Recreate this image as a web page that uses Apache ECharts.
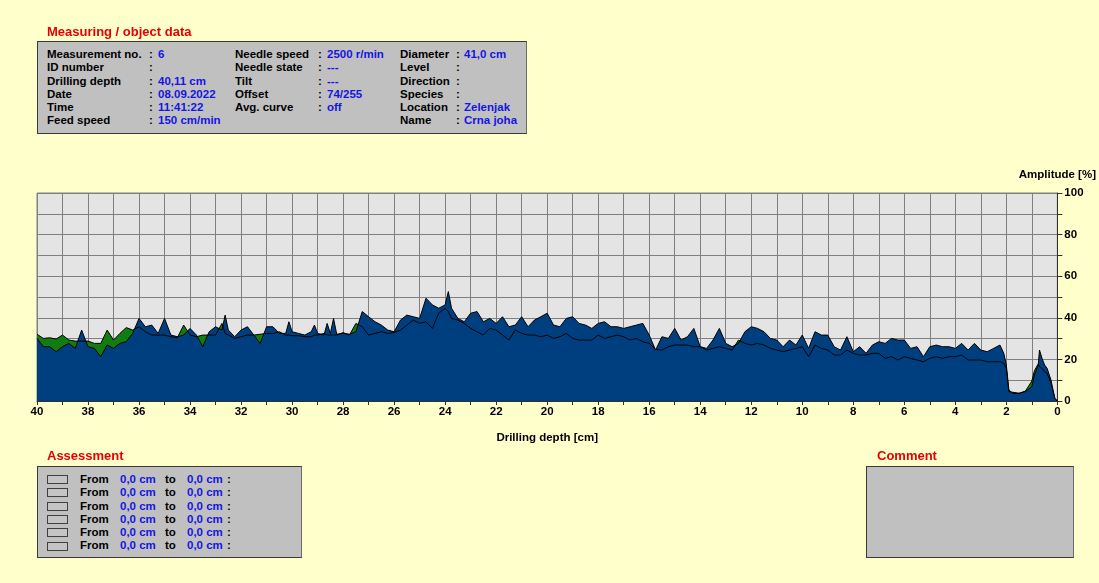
<!DOCTYPE html>
<html>
<head>
<meta charset="utf-8">
<script src="https://cdn.jsdelivr.net/npm/echarts@6/dist/echarts.min.js"></script>
<style>
  html, body { margin: 0; padding: 0; background: #ffffcc; }
  body { width: 1099px; height: 583px; position: relative; overflow: hidden;
         font-family: "Liberation Sans", Arial, sans-serif; font-weight: bold; font-size: 11.5px; }
  #chart { position: absolute; left: 0; top: 0; width: 1099px; height: 583px; }
  .title { position: absolute; color: #e60000; font-size: 13px; line-height: 16px; }
  .box { position: absolute; background: #c0c0c0; border: 1px solid #3a3a3a;
         border-right-color: #6a6a6a; box-sizing: border-box; }
  .col { position: absolute; line-height: 13.3px; white-space: pre; color: #000; }
  .val { color: #1414e6; }
  .sq { position: absolute; width: 21px; height: 9px; border: 1px solid #404040;
        box-sizing: border-box; background: #c4c4c4; }
</style>
</head>
<body>
<div id="chart"></div>

<div class="title" style="left:47px; top:24px;">Measuring / object data</div>
<div class="box" style="left:37px; top:41px; width:490px; height:93px;"></div>
<div id="info"></div>

<div class="title" style="left:47px; top:448px;">Assessment</div>
<div class="box" style="left:37px; top:466px; width:265px; height:92px;"></div>
<div id="assess"></div>

<div class="title" style="left:877px; top:448px;">Comment</div>
<div class="box" style="left:866px; top:466px; width:208px; height:92px;"></div>

<script>
// measuring / object data, three columns of label + value
const infoLabels1 = ["Measurement no.", "ID number", "Drilling depth", "Date", "Time", "Feed speed"];
const infoValues1 = ["6", "", "40,11 cm", "08.09.2022", "11:41:22", "150 cm/min"];
const infoLabels2 = ["Needle speed", "Needle state", "Tilt", "Offset", "Avg. curve", ""];
const infoValues2 = ["2500 r/min", "---", "---", "74/255", "off", ""];
const infoLabels3 = ["Diameter", "Level", "Direction", "Species", "Location", "Name"];
const infoValues3 = ["41,0 cm", "", "", "", "Zelenjak", "Crna joha"];

const assessFrom = ["0,0 cm", "0,0 cm", "0,0 cm", "0,0 cm", "0,0 cm", "0,0 cm"];
const assessTo = ["0,0 cm", "0,0 cm", "0,0 cm", "0,0 cm", "0,0 cm", "0,0 cm"];

// drilling depth [cm] and the two curves [%]
const depth = [
  40, 39.75, 39.5, 39.25, 39, 38.75, 38.5, 38.25, 38, 37.75,
  37.5, 37.25, 37, 36.75, 36.5, 36.25, 36, 35.75, 35.5, 35.25,
  35, 34.75, 34.5, 34.25, 34, 33.75, 33.5, 33.25, 33, 32.75,
  32.625, 32.5, 32.25, 32, 31.75, 31.5, 31.25, 31, 30.75, 30.5,
  30.25, 30.125, 30, 29.75, 29.5, 29.25, 29.125, 29, 28.75, 28.625,
  28.5, 28.375, 28.25, 28, 27.75, 27.5, 27.25, 27, 26.75, 26.5,
  26.25, 26, 25.75, 25.5, 25.25, 25, 24.75, 24.5, 24.25, 24,
  23.875, 23.75, 23.5, 23.25, 23, 22.75, 22.5, 22.25, 22, 21.75,
  21.5, 21.25, 21, 20.75, 20.5, 20.25, 20, 19.75, 19.5, 19.25,
  19, 18.75, 18.5, 18.25, 18, 17.75, 17.5, 17.25, 17, 16.75,
  16.5, 16.25, 16, 15.75, 15.5, 15.25, 15, 14.75, 14.5, 14.25,
  14, 13.75, 13.5, 13.25, 13, 12.75, 12.5, 12.25, 12, 11.75,
  11.5, 11.25, 11, 10.75, 10.5, 10.25, 10, 9.75, 9.5, 9.25,
  9, 8.75, 8.5, 8.25, 8, 7.75, 7.5, 7.25, 7, 6.75,
  6.5, 6.25, 6, 5.75, 5.5, 5.25, 5, 4.75, 4.5, 4.25,
  4, 3.75, 3.5, 3.25, 3, 2.75, 2.5, 2.25, 2.1, 2,
  1.9, 1.75, 1.5, 1.25, 1, 0.9, 0.75, 0.7, 0.6, 0.5,
  0.4, 0.25, 0.1, 0
];

const amplitude = [
  30.1, 26.1, 26.1, 23.7, 26.1, 27.7, 25.3, 34.1, 26.1, 25.3,
  21.3, 26.9, 25.3, 27.7, 28.5, 32.5, 39.7, 35.7, 36.5, 32.5,
  39.7, 31.7, 30.9, 31.7, 34.9, 31.7, 26.1, 33.3, 35.7, 34.1,
  41.3, 34.1, 30.9, 34.1, 35.7, 31.7, 27.7, 35.7, 35.7, 32.5,
  32.5, 38.1, 33.3, 32.5, 31.7, 33.3, 36.5, 32.5, 31.7, 37.3,
  32.5, 39.7, 32.1, 32.5, 32.1, 33.3, 43.0, 40.5, 38.1, 36.5,
  34.1, 33.3, 38.9, 41.3, 40.5, 39.7, 49.4, 46.2, 44.6, 46.2,
  52.6, 44.6, 39.7, 38.1, 42.2, 43.0, 38.1, 39.7, 37.3, 40.5,
  35.7, 36.5, 40.5, 35.7, 38.9, 40.5, 42.2, 36.5, 35.7, 39.7,
  40.5, 37.3, 36.5, 34.9, 37.3, 38.1, 35.7, 35.7, 34.9, 35.7,
  36.5, 37.3, 31.7, 24.5, 30.9, 30.1, 34.9, 29.3, 30.9, 34.9,
  26.1, 25.3, 29.3, 34.9, 27.7, 26.1, 27.7, 33.3, 35.7, 34.9,
  33.3, 30.1, 29.3, 26.1, 29.3, 26.9, 31.7, 25.3, 33.3, 31.7,
  31.7, 26.1, 24.5, 30.9, 23.7, 26.1, 22.9, 26.9, 28.5, 27.7,
  30.1, 29.3, 29.3, 25.3, 26.1, 21.3, 26.1, 26.9, 26.1, 26.1,
  25.3, 27.7, 24.5, 27.7, 24.5, 23.7, 25.3, 26.9, 22.9, 17.3,
  5.3, 3.7, 3.7, 4.5, 6.9, 12.5, 17.3, 24.5, 20.5, 17.3,
  15.7, 10.1, 1.3, 0
];

const average = [
  32.1, 30.1, 30.4, 29.8, 31.7, 29.3, 28.8, 28.8, 28.8, 27.7,
  27.7, 34.1, 29.3, 32.5, 35.3, 34.1, 35.7, 33.3, 31.7, 31.7,
  31.7, 30.9, 30.4, 36.5, 31.7, 30.9, 31.7, 31.7, 31.7, 37.3,
  32.5, 31.7, 30.1, 30.9, 31.7, 31.7, 32.1, 32.5, 32.5, 33.3,
  31.7, 31.7, 31.4, 31.4, 30.9, 30.9, 31.7, 31.7, 32.5, 31.7,
  31.7, 31.7, 31.7, 32.9, 31.7, 37.3, 35.7, 31.7, 32.5, 33.3,
  32.5, 32.9, 34.1, 36.5, 38.9, 37.3, 38.1, 34.9, 42.2, 44.6,
  43.0, 39.7, 38.9, 37.3, 34.9, 33.3, 31.7, 34.9, 34.1, 31.7,
  29.3, 34.1, 32.5, 31.7, 31.7, 30.9, 31.7, 30.1, 30.9, 32.5,
  30.1, 29.3, 29.3, 29.3, 31.7, 30.1, 30.9, 31.7, 30.9, 29.3,
  30.1, 28.5, 27.7, 24.8, 24.5, 26.1, 26.9, 26.9, 26.9, 26.1,
  26.1, 24.5, 25.3, 26.1, 25.3, 24.5, 29.3, 27.7, 26.9, 27.7,
  26.9, 25.3, 24.5, 23.7, 24.5, 25.3, 26.1, 21.3, 26.9, 25.3,
  24.5, 22.1, 22.1, 24.5, 22.9, 22.1, 22.1, 22.9, 22.9, 20.5,
  21.3, 19.7, 21.3, 20.5, 19.7, 18.9, 20.5, 21.3, 20.5, 21.3,
  21.3, 22.1, 19.7, 19.7, 19.7, 18.9, 18.9, 18.9, 18.1, 15.7,
  4.5, 4.2, 3.7, 4.8, 9.6, 14.6, 17.8, 16.5, 15.7, 14.1,
  13.3, 8.5, 1.3, 0
];

function addCol(parent, left, top, lines, cls) {
  const el = document.createElement("div");
  el.className = "col" + (cls ? " " + cls : "");
  el.style.left = left + "px";
  el.style.top = top + "px";
  el.textContent = lines.join("\n");
  parent.appendChild(el);
}

const info = document.getElementById("info");
addCol(info, 47, 48, infoLabels1);
addCol(info, 149, 48, infoLabels1.map(() => ":"));
addCol(info, 158, 48, infoValues1, "val");
addCol(info, 235, 48, infoLabels2);
addCol(info, 318, 48, infoLabels2.map((l) => (l ? ":" : "")));
addCol(info, 327, 48, infoValues2, "val");
addCol(info, 400, 48, infoLabels3);
addCol(info, 456, 48, infoLabels3.map(() => ":"));
addCol(info, 464, 48, infoValues3, "val");

const assess = document.getElementById("assess");
assessFrom.forEach((v, i) => {
  const sq = document.createElement("div");
  sq.className = "sq";
  sq.style.left = "47px";
  sq.style.top = 475 + i * 13.3 + "px";
  assess.appendChild(sq);
});
addCol(assess, 80, 473, assessFrom.map(() => "From"));
addCol(assess, 120, 473, assessFrom, "val");
addCol(assess, 165, 473, assessFrom.map(() => "to"));
addCol(assess, 187, 473, assessTo, "val");
addCol(assess, 227, 473, assessFrom.map(() => ":"));

const chart = echarts.init(document.getElementById("chart"), null, { renderer: "canvas" });

const ampData = depth.map((d, i) => [d, amplitude[i]]);
const avgData = depth.map((d, i) => [d, average[i]]);

const labelStyle = {
  color: "#000",
  fontFamily: "Liberation Sans, Arial, sans-serif",
  fontWeight: "bold",
  fontSize: 11.5,
};

chart.setOption({
  backgroundColor: "transparent",
  animation: false,
  grid: {
    left: 37, right: 33, top: 193, bottom: 182,
    show: true, backgroundColor: "#e4e4e4", borderColor: "#808080", borderWidth: 1,
  },
  xAxis: {
    type: "value",
    inverse: true,
    min: 0,
    max: 40,
    interval: 1,
    name: "Drilling depth [cm]",
    nameLocation: "middle",
    nameGap: 31,
    nameTextStyle: labelStyle,
    axisLine: { show: true, onZero: false, lineStyle: { color: "#303030" } },
    axisTick: { show: true, length: 4, lineStyle: { color: "#303030" } },
    axisLabel: {
      ...labelStyle,
      margin: 5,
      formatter: (v) => (v % 2 === 0 ? String(v) : ""),
    },
    splitLine: { show: true, lineStyle: { color: "#808080", width: 1 } },
  },
  yAxis: {
    type: "value",
    position: "right",
    min: 0,
    max: 100,
    interval: 10,
    name: "Amplitude [%]",
    nameLocation: "end",
    nameGap: 12,
    nameTextStyle: labelStyle,
    axisLine: { show: true, lineStyle: { color: "#303030" } },
    axisTick: { show: true, length: 5, lineStyle: { color: "#303030" } },
    axisLabel: {
      ...labelStyle,
      margin: 7,
      formatter: (v) => (v % 20 === 0 ? String(v) : ""),
    },
    splitLine: { show: true, lineStyle: { color: "#808080", width: 1 } },
  },
  series: [
    {
      type: "line",
      data: avgData,
      symbol: "none",
      lineStyle: { width: 0 },
      areaStyle: { color: "#117d11", opacity: 1 },
      z: 2,
    },
    {
      type: "line",
      data: ampData,
      symbol: "none",
      lineStyle: { color: "#000", width: 1 },
      areaStyle: { color: "#003f7f", opacity: 1 },
      z: 3,
    },
    {
      type: "line",
      data: avgData,
      symbol: "none",
      lineStyle: { color: "#000", width: 1 },
      z: 4,
    },
  ],
});
</script>
</body>
</html>
